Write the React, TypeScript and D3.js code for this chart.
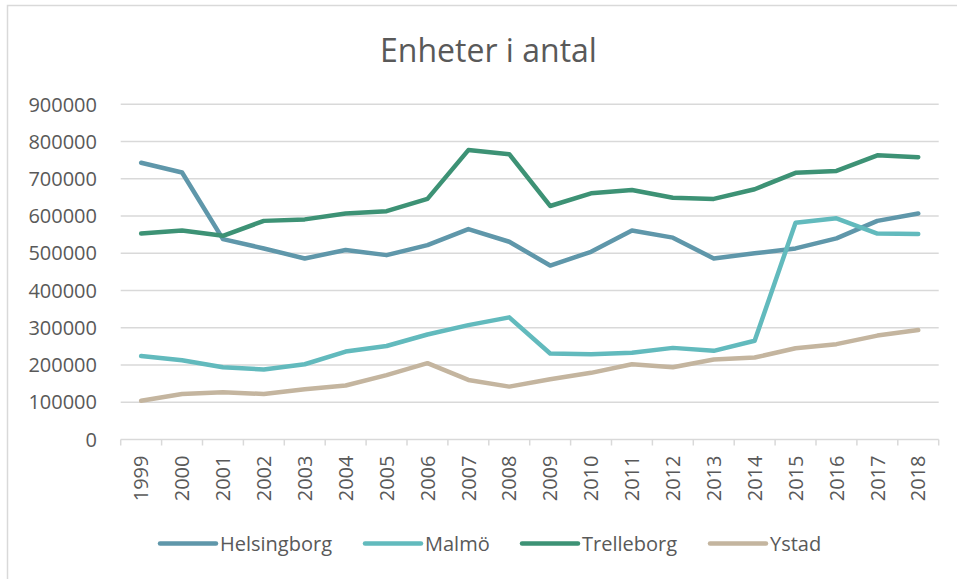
import * as d3 from "d3";
import { useEffect, useRef } from "react";

const years = ["1999","2000","2001","2002","2003","2004","2005","2006","2007","2008","2009","2010","2011","2012","2013","2014","2015","2016","2017","2018"];
const helsingborg = [743000,717000,538000,513000,486000,509000,495000,522000,565000,531000,467000,504000,561000,542000,486000,500000,513000,540000,587000,607000];
const malmo = [224000,213000,194000,188000,202000,236000,251000,282000,307000,328000,231000,229000,233000,246000,238000,265000,582000,594000,553000,552000];
const trelleborg = [553000,561000,547000,587000,591000,607000,613000,646000,777000,766000,627000,661000,670000,649000,646000,672000,716000,721000,763000,758000];
const ystad = [104000,122000,127000,122000,135000,145000,173000,205000,160000,142000,162000,179000,202000,194000,215000,220000,245000,256000,279000,294000];
const yTicks = [0,100000,200000,300000,400000,500000,600000,700000,800000,900000];

const series = [
  { name: "Helsingborg", values: helsingborg, color: "#5f97aa" },
  { name: "Malmö", values: malmo, color: "#62babd" },
  { name: "Trelleborg", values: trelleborg, color: "#3d9275" },
  { name: "Ystad", values: ystad, color: "#c4b59f" },
];

const App = () => {
  const ref = useRef<SVGSVGElement>(null);

  useEffect(() => {
    const width = 957, height = 579;
    const svg = d3.select(ref.current);
    svg.selectAll("*").remove();
    const font = "'Open Sans', sans-serif";
    const grey = "#595959";

    // chart frame
    svg.append("rect")
      .attr("x", 7.5).attr("y", 5.5)
      .attr("width", width).attr("height", height)
      .attr("fill", "#fff").attr("stroke", "#d9d9d9").attr("stroke-width", 1.5);

    const left = 120.7, right = 938.7, top = 104.3, bottom = 439.5;

    const x = d3.scaleBand().domain(years).range([left, right]);
    const y = d3.scaleLinear().domain([0, 900000]).range([bottom, top]);

    svg.append("text")
      .attr("x", 488.5).attr("y", 61.5)
      .attr("text-anchor", "middle")
      .attr("font-family", font).attr("font-size", 32)
      .attr("fill", grey)
      .text("Enheter i antal");

    // gridlines
    svg.append("g").selectAll("line").data(yTicks).enter().append("line")
      .attr("x1", left).attr("x2", right)
      .attr("y1", d => y(d)).attr("y2", d => y(d))
      .attr("stroke", "#d9d9d9").attr("stroke-width", 1.5);

    svg.append("g").selectAll("text").data(yTicks).enter().append("text")
      .attr("x", 97).attr("y", d => y(d))
      .attr("dy", "0.36em")
      .attr("text-anchor", "end")
      .attr("font-family", font).attr("font-size", 20)
      .attr("fill", grey)
      .text(d => String(d));

    // x ticks at category boundaries
    const bounds = years.map(d => x(d) as number).concat([right]);
    svg.append("g").selectAll("line").data(bounds).enter().append("line")
      .attr("x1", d => d).attr("x2", d => d)
      .attr("y1", bottom).attr("y2", bottom + 6)
      .attr("stroke", "#d9d9d9").attr("stroke-width", 1.5);

    svg.append("g").selectAll("text").data(years).enter().append("text")
      .attr("transform", d => `translate(${(x(d) as number) + x.bandwidth() / 2},${bottom + 16}) rotate(-90)`)
      .attr("dy", "0.36em")
      .attr("text-anchor", "end")
      .attr("font-family", font).attr("font-size", 20)
      .attr("fill", grey)
      .text(d => d);

    const line = d3.line<number>()
      .x((_, i) => (x(years[i]) as number) + x.bandwidth() / 2)
      .y(d => y(d));

    series.forEach(s => {
      svg.append("path")
        .attr("d", line(s.values))
        .attr("fill", "none")
        .attr("stroke", s.color)
        .attr("stroke-width", 4.5)
        .attr("stroke-linejoin", "round")
        .attr("stroke-linecap", "round");
    });

    // legend
    const legendX = [160, 365, 522, 710];
    const legendY = 543.5;
    series.forEach((s, i) => {
      const g = svg.append("g");
      g.append("line")
        .attr("x1", legendX[i]).attr("x2", legendX[i] + 56)
        .attr("y1", legendY).attr("y2", legendY)
        .attr("stroke", s.color).attr("stroke-width", 4.5)
        .attr("stroke-linecap", "round");
      g.append("text")
        .attr("x", legendX[i] + 60).attr("y", legendY)
        .attr("dy", "0.36em")
        .attr("font-family", font).attr("font-size", 20)
        .attr("fill", grey)
        .text(s.name);
    });
  }, []);

  return (
    <svg ref={ref} width={957} height={579}
      style={{ position: "absolute", left: 0, top: 0, display: "block" }} />
  );
};

export default App;
